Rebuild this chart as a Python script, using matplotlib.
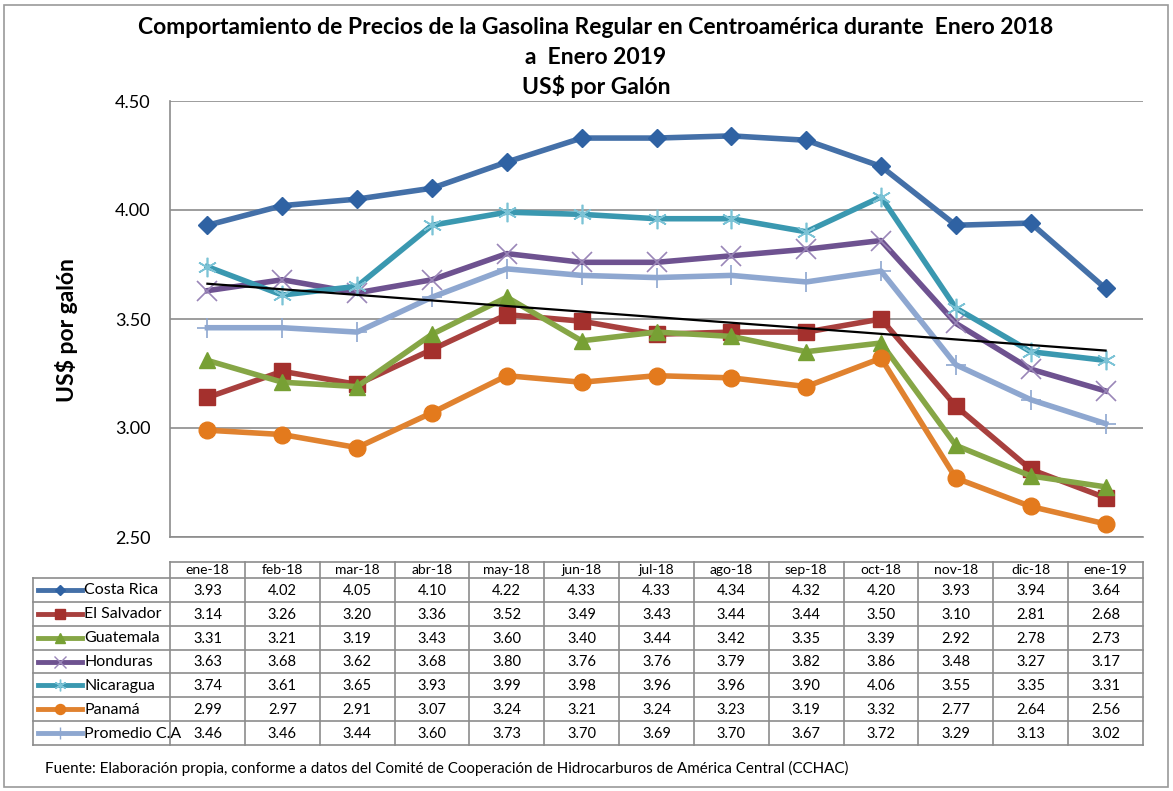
import numpy as np
import matplotlib
matplotlib.use("Agg")
import matplotlib.pyplot as plt
from matplotlib.lines import Line2D
from matplotlib.patches import Rectangle

plt.rcParams['font.family'] = ['Lato', 'DejaVu Sans']

meses = ['ene-18', 'feb-18', 'mar-18', 'abr-18', 'may-18', 'jun-18', 'jul-18',
         'ago-18', 'sep-18', 'oct-18', 'nov-18', 'dic-18', 'ene-19']

costa_rica = [3.93, 4.02, 4.05, 4.10, 4.22, 4.33, 4.33, 4.34, 4.32, 4.20, 3.93, 3.94, 3.64]
el_salvador = [3.14, 3.26, 3.20, 3.36, 3.52, 3.49, 3.43, 3.44, 3.44, 3.50, 3.10, 2.81, 2.68]
guatemala = [3.31, 3.21, 3.19, 3.43, 3.60, 3.40, 3.44, 3.42, 3.35, 3.39, 2.92, 2.78, 2.73]
honduras = [3.63, 3.68, 3.62, 3.68, 3.80, 3.76, 3.76, 3.79, 3.82, 3.86, 3.48, 3.27, 3.17]
nicaragua = [3.74, 3.61, 3.65, 3.93, 3.99, 3.98, 3.96, 3.96, 3.90, 4.06, 3.55, 3.35, 3.31]
panama = [2.99, 2.97, 2.91, 3.07, 3.24, 3.21, 3.24, 3.23, 3.19, 3.32, 2.77, 2.64, 2.56]
promedio = [3.46, 3.46, 3.44, 3.60, 3.73, 3.70, 3.69, 3.70, 3.67, 3.72, 3.29, 3.13, 3.02]

# nombre, datos, color linea, marcador, color marcador, tamano, grosor borde
series = [
    ('Costa Rica', costa_rica, '#4470A8', 'D', '#2F62A3', 9, 1),
    ('El Salvador', el_salvador, '#A8403E', 's', '#A4302D', 11, 1),
    ('Guatemala', guatemala, '#86A646', '^', '#77A034', 12, 1),
    ('Honduras', honduras, '#6E5290', 'x', '#9A86B8', 14, 1.2),
    ('Nicaragua', nicaragua, '#3A98B0', (6, 2, 0), '#7CC3D6', 14, 1.2),
    ('Panamá', panama, '#E0822F', 'o', '#E37A1D', 12, 1),
    ('Promedio C.A', promedio, '#8EA7D0', '+', '#8EA7D0', 14, 1.2),
]

W, H = 1173, 791
fig = plt.figure(figsize=(W / 100, H / 100), dpi=100)

def box(x0, y0, x1, y1):
    return [x0 / W, 1 - y1 / H, (x1 - x0) / W, (y1 - y0) / H]

# marco exterior
fig.patches.append(Rectangle((4 / W, 4 / H), (W - 9) / W, (H - 9) / H,
                             transform=fig.transFigure, fill=False,
                             edgecolor='#9A9A9A', linewidth=1.2))

ax = fig.add_axes(box(170, 101, 1143, 537))
x = np.arange(len(meses))
for nombre, datos, color, mk, mcolor, ms, mew in series:
    ax.plot(x, datos, color=color, linewidth=4, marker=mk, markersize=ms,
            markerfacecolor=mcolor, markeredgecolor=mcolor, markeredgewidth=mew,
            solid_joinstyle='round', zorder=3)

# tendencia lineal del promedio
pend, inter = np.polyfit(x, promedio, 1)
ax.plot(x, pend * x + inter, color='black', linewidth=1.6, zorder=4)

ax.set_xlim(-0.5, len(meses) - 0.5)
ax.set_ylim(2.5, 4.5)
ax.set_yticks([2.5, 3.0, 3.5, 4.0, 4.5])
ax.set_yticklabels(['%.2f' % v for v in [2.5, 3.0, 3.5, 4.0, 4.5]], fontsize=13)
ax.tick_params(axis='y', length=0, pad=14)
ax.set_xticks([])
ax.grid(axis='y', color='#8C8C8C', linewidth=1.2)
for s in ['top', 'right']:
    ax.spines[s].set_visible(False)
for s in ['left', 'bottom']:
    ax.spines[s].set_color('#8C8C8C')
    ax.spines[s].set_linewidth(1.2)
ax.set_ylabel('US$ por galón', fontsize=16.5, fontweight='bold')
ax.yaxis.set_label_coords(-0.095, 0.475)

fig.text(596 / W, 1 - 28 / H,
         'Comportamiento de Precios de la Gasolina Regular en Centroamérica durante  Enero 2018',
         ha='center', va='center', fontsize=16.5, fontweight='bold')
fig.text(596 / W, 1 - 58 / H, 'a  Enero 2019', ha='center', va='center',
         fontsize=16.5, fontweight='bold')
fig.text(596 / W, 1 - 87 / H, 'US$ por Galón', ha='center', va='center',
         fontsize=16.5, fontweight='bold')

# tabla de datos
cat_w = (1143 - 170) / len(meses)
leg_w = (170 - 33) / cat_w
tab = fig.add_axes(box(33, 562, 1143, 745))
tab.set_xlim(-0.5 - leg_w, len(meses) - 0.5)
tab.set_ylim(183, 0)
tab.axis('off')
gc = '#8C8C8C'
head_h = 16
row_h = (183 - head_h) / len(series)
n = len(meses)
# lineas horizontales
tab.plot([-0.5, n - 0.5], [0, 0], color=gc, lw=1.2, clip_on=False)
for i in range(len(series) + 1):
    yy = head_h + i * row_h
    tab.plot([-0.5 - leg_w, n - 0.5], [yy, yy], color=gc, lw=1.2, clip_on=False)
# lineas verticales
for j in range(n + 1):
    tab.plot([j - 0.5, j - 0.5], [0, 183], color=gc, lw=1.2, clip_on=False)
tab.plot([-0.5 - leg_w] * 2, [head_h, 183], color=gc, lw=1.2, clip_on=False)

for j, m in enumerate(meses):
    tab.text(j, head_h / 2 + 0.5, m, ha='center', va='center', fontsize=10)
for i, (nombre, datos, color, mk, mcolor, ms, mew) in enumerate(series):
    yc = head_h + (i + 0.5) * row_h
    for j, v in enumerate(datos):
        tab.text(j, yc + 1, '%.2f' % v, ha='center', va='center', fontsize=10.5)
    x0 = -0.5 - leg_w + 5 / cat_w
    x1 = x0 + 44 / cat_w
    tab.add_line(Line2D([x0, x1], [yc, yc], color=color, lw=3.5, clip_on=False))
    tab.add_line(Line2D([(x0 + x1) / 2], [yc], marker=mk, markersize=ms * 0.6,
                        markerfacecolor=mcolor, markeredgecolor=mcolor, lw=0,
                        clip_on=False))
    tab.text(x1 + 2 / cat_w, yc + 0.5, nombre, ha='left', va='center', fontsize=11.5)

fig.text(45 / W, 1 - 768 / H,
         'Fuente: Elaboración propia, conforme a datos del Comité de Cooperación de '
         'Hidrocarburos de América Central (CCHAC)',
         ha='left', va='center', fontsize=10.9)

fig.savefig('out.png', dpi=100)
